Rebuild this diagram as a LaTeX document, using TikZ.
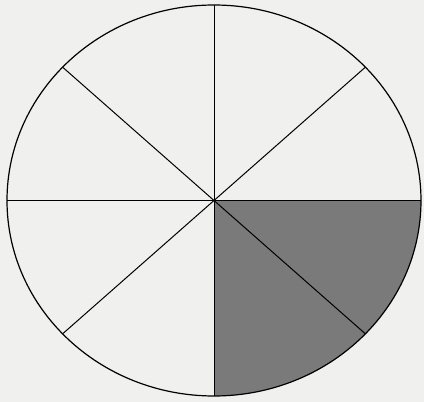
\documentclass[tikz,border=0pt]{standalone}
\usepackage{xcolor}
\usepackage{tikz}
\definecolor{paper}{RGB}{240,240,238}
\definecolor{quartergray}{RGB}{122,122,122}
\begin{document}
\begin{tikzpicture}[x=1pt,y=1pt]
\fill[paper] (0,0) rectangle (424,402);
\useasboundingbox (0,0) rectangle (424,402);
\coordinate (O) at (214,201.5);
\fill[quartergray] (O) -- ++(207,0) arc[start angle=0, end angle=-90, x radius=207, y radius=195.5] -- cycle;
\foreach \a in {0,43,90,137,180,223,270,317}
  \draw[line width=1pt] (O) -- ++({207*cos(\a)},{195.5*sin(\a)});
\draw[line width=1.2pt] (O) ellipse [x radius=207, y radius=195.5];
\end{tikzpicture}
\end{document}
